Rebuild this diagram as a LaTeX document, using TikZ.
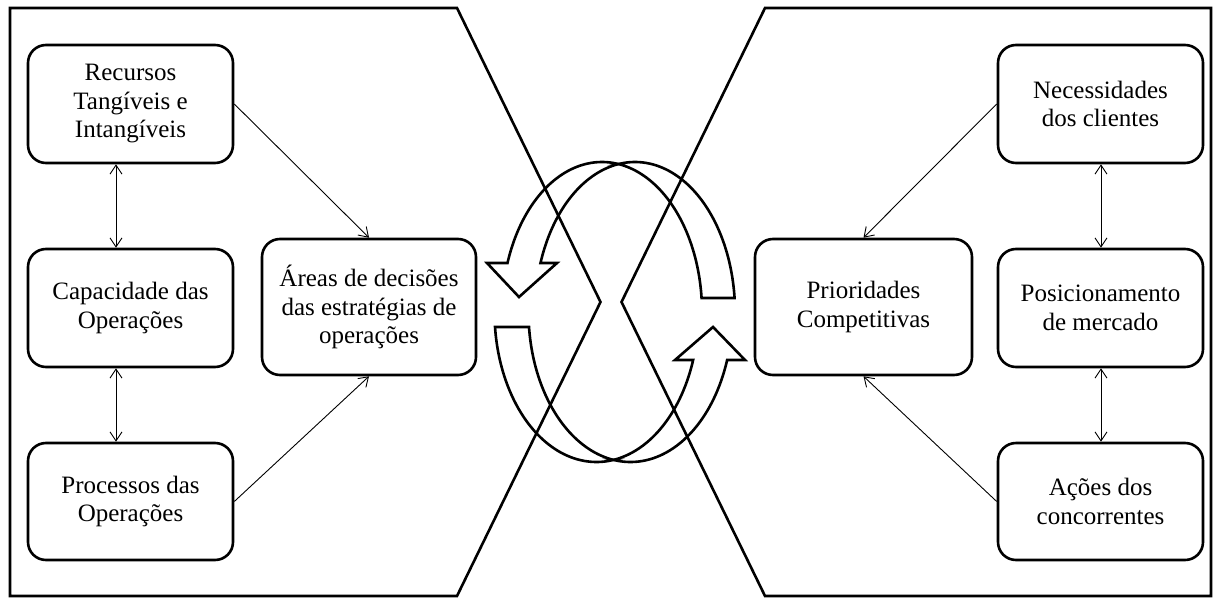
\documentclass[tikz,border=0pt]{standalone}
\usepackage{fontspec}
\setmainfont{Liberation Serif}
\usetikzlibrary{arrows.meta}
\begin{document}
\begin{tikzpicture}[x=1pt,y=-1pt,
  card/.style={draw, line width=2.6pt, rounded corners=18pt, align=center,
    inner sep=0pt, font=\fontsize{25}{28.5}\selectfont},
  outline/.style={line width=2.6pt, line join=miter},
  ring/.style={line width=2.6pt, line join=miter},
  link/.style={line width=0.9pt, -{Straight Barb[length=9pt,width=12pt]}},
  twoway/.style={line width=0.9pt,
    {Straight Barb[length=9pt,width=12pt]}-{Straight Barb[length=9pt,width=12pt]}}]
\useasboundingbox (0,0) rectangle (1214,599);

% side panels
\draw[outline] (10,8) -- (457,8) -- (600.5,302) -- (457,596) -- (10,596) -- cycle;
\draw[outline] (1211,8) -- (765,8) -- (621.5,302) -- (765,596) -- (1211,596) -- cycle;

% circular arrows in the middle
% upper left, pointing down
\draw[ring] plot[domain=-80.5:-160.93,samples=80] ({602+100*cos(\x)},{312+150*sin(\x)})
  -- (487,263) -- (519,297) -- (557,263)
  -- plot[domain=-160.93:-99.5,samples=80] ({635+100*cos(\x)},{312+150*sin(\x)}) -- cycle;
% upper right, flat end
\draw[ring] plot[domain=-99.5:-5.36,samples=80] ({635+100*cos(\x)},{312+150*sin(\x)})
  -- plot[domain=-5.36:-80.5,samples=80] ({602+100*cos(\x)},{312+150*sin(\x)}) -- cycle;
% lower left, flat end
\draw[ring] plot[domain=174.26:80.4,samples=80] ({596.5+102*cos(\x)},{312+150*sin(\x)})
  -- plot[domain=99.6:174.26,samples=80] ({630.5+102*cos(\x)},{312+150*sin(\x)}) -- cycle;
% lower right, pointing up
\draw[ring] plot[domain=80.4:18.66,samples=80] ({596.5+102*cos(\x)},{312+150*sin(\x)})
  -- (675,360) -- (713,327) -- (745,360)
  -- plot[domain=18.66:99.6,samples=80] ({630.5+102*cos(\x)},{312+150*sin(\x)}) -- cycle;

% left side
\node[card, minimum width=205pt, minimum height=118pt] (rec) at (130.5,104) {Recursos\\Tangíveis e\\Intangíveis};
\node[card, minimum width=205pt, minimum height=118pt] (cap) at (130.5,308) {Capacidade das\\Operações};
\node[card, minimum width=205pt, minimum height=117pt] (pro) at (130.5,501.5) {Processos das\\Operações};
\node[card, minimum width=214pt, minimum height=136pt] (are) at (369,307) {Áreas de decisões\\das estratégias de\\operações};

% right side
\node[card, minimum width=217pt, minimum height=136pt] (pri) at (863.5,307) {Prioridades\\Competitivas};
\node[card, minimum width=205pt, minimum height=118pt] (nec) at (1100.5,104) {Necessidades\\dos clientes};
\node[card, minimum width=205pt, minimum height=118pt] (pos) at (1100.5,308) {Posicionamento\\de mercado};
\node[card, minimum width=205pt, minimum height=117pt] (aco) at (1100.5,501.5) {Ações dos\\concorrentes};

\coordinate (lx) at (116,0);
\coordinate (rx) at (1101,0);

\draw[twoway] (rec.south -| lx) -- (cap.north -| lx);
\draw[twoway] (cap.south -| lx) -- (pro.north -| lx);
\draw[twoway] (nec.south -| rx) -- (pos.north -| rx);
\draw[twoway] (pos.south -| rx) -- (aco.north -| rx);

\draw[link] (rec.east) -- (are.north);
\draw[link] (pro.east) -- (are.south);
\draw[link] (nec.west) -- (pri.north);
\draw[link] (aco.west) -- (pri.south);
\end{tikzpicture}
\end{document}
